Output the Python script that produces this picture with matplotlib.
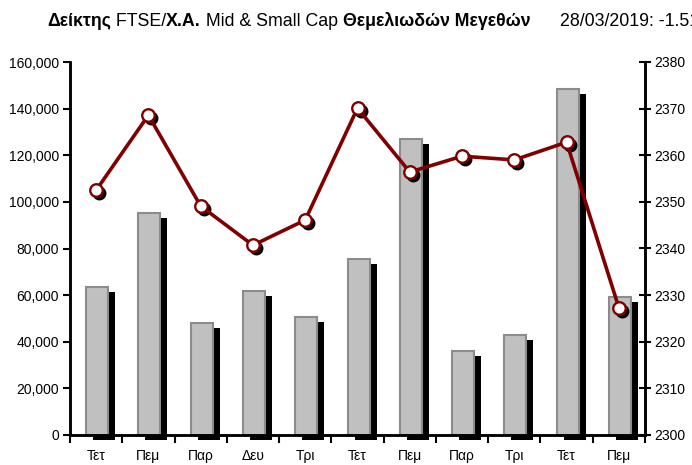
import matplotlib
matplotlib.use("Agg")
import matplotlib.pyplot as plt
from matplotlib.transforms import offset_copy, IdentityTransform
import numpy as np

plt.rcParams['font.family'] = ['Liberation Sans', 'DejaVu Sans']

days = ['Τετ', 'Πεμ', 'Παρ', 'Δευ', 'Τρι', 'Τετ', 'Πεμ', 'Παρ', 'Τρι', 'Τετ', 'Πεμ']
volume = [63500, 95200, 48000, 61800, 50600, 75500, 127000, 36000, 42900, 148400, 59200]
index_close = [2352.5, 2368.6, 2349.1, 2340.7, 2346.1, 2370.1, 2356.4, 2359.8, 2359.0, 2362.8, 2327.3]

title_parts = [("Δείκτης", 'bold'), (" FTSE/", 'normal'), ("Χ.Α.", 'bold'),
               (" Mid & Small Cap ", 'normal'), ("Θεμελιωδών Μεγεθών", 'bold')]
date_text = "28/03/2019: -1.51%"

W, H = 692, 465
fig = plt.figure(figsize=(W / 100, H / 100), dpi=100)
ax = fig.add_axes([70 / W, 1 - 435 / H, 575 / W, 373 / H])
ax2 = ax.twinx()

x = np.arange(len(days))

# bars with a black drop shadow
shadow = offset_copy(ax.transData, fig=fig, x=7, y=-5, units='dots')
ax.bar(x + 0.02, volume, width=0.42, color='black', transform=shadow,
       clip_on=False, zorder=1)
ax.bar(x + 0.02, volume, width=0.42, color='#c0c0c0', edgecolor='#8c8c8c',
       linewidth=1.5, zorder=2)

# index line with shadowed markers
mshadow = offset_copy(ax2.transData, fig=fig, x=3, y=-3, units='dots')
ax2.plot(x, index_close, 'o', color='black', markersize=9, transform=mshadow,
         zorder=1)
ax2.plot(x, index_close, '-', color='#800000', linewidth=2.6, zorder=2)
ax2.plot(x, index_close, 'o', markerfacecolor='white', markeredgecolor='#800000',
         markeredgewidth=1.7, markersize=9, linestyle='none', zorder=3)

ax.set_xlim(-0.5, len(days) - 0.5)
ax.set_ylim(0, 160000)
ax2.set_ylim(2300, 2380)
ax.set_yticks(np.arange(0, 160001, 20000))
ax.set_yticklabels([f"{v:,}" for v in range(0, 160001, 20000)])
ax2.set_yticks(np.arange(2300, 2381, 10))

ax.set_xticks(x)
ax.set_xticklabels(days)
ax.set_xticks(np.arange(-0.5, len(days) - 0.4, 1.0), minor=True)
ax.tick_params(axis='x', which='major', length=0, pad=10, labelsize=10)
ax.tick_params(axis='x', which='minor', length=6, width=1.5, direction='out')
ax.tick_params(axis='y', length=5, width=1.5, direction='out', labelsize=10, pad=3)
ax2.tick_params(axis='y', length=8, width=1.5, direction='inout', labelsize=10, pad=3)

for a in (ax, ax2):
    a.spines['top'].set_visible(False)
    for s in ('left', 'right', 'bottom'):
        a.spines[s].set_linewidth(1.8)
ax.set_zorder(1)
ax2.set_zorder(2)
ax.patch.set_visible(False)

# title made of bold / regular pieces
fam = ['Liberation Sans Narrow', 'Liberation Sans', 'DejaVu Sans']
r = fig.canvas.get_renderer()
px, py = 47, H - 26
for s, w in title_parts:
    t = fig.text(px, py, s, fontweight=w, fontsize=12.8, transform=IdentityTransform(),
                 family=fam)
    px = t.get_window_extent(renderer=r).x1
fig.text(560, py, date_text, fontsize=12.8, transform=IdentityTransform(), family=fam)

fig.savefig('out.png', dpi=100)
